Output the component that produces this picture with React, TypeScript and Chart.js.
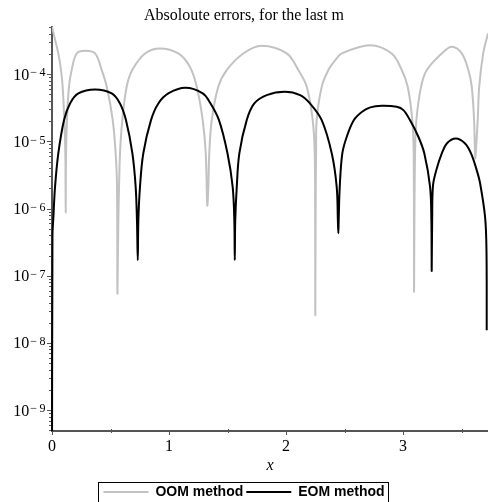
import React, { useEffect, useRef } from 'react';
import { Chart, registerables } from 'chart.js';

Chart.register(...registerables);

// ---------- data ----------
const titleText = 'Absoloute errors, for the last m';
const xAxisTitle = 'x';
const seriesLabels = ['OOM method', 'EOM method'];
const xMin = 0;
const xMax = 3.726;
const yMin = 4.9e-10;
const yMax = 5.2e-4;
const xTickLabels = [0, 1, 2, 3];
const xMinorTicks = [0.5, 1.5, 2.5, 3.5];
const yTickExponents = [-9, -8, -7, -6, -5, -4];

const oomX = [
  0, 0.020, 0.054, 0.077, 0.091, 0.105, 0.114, 0.117,
  0.120, 0.128, 0.145, 0.168, 0.211, 0.282, 0.368, 0.425, 0.468, 0.519, 0.544, 0.556, 0.559,
  0.567, 0.573, 0.581, 0.601, 0.638, 0.686, 0.795, 0.923, 1.079, 1.179, 1.237, 1.288, 1.314, 1.327,
  1.336, 1.344, 1.365, 1.421, 1.493, 1.635, 1.792, 2.006, 2.105, 2.177, 2.228, 2.245, 2.249, 2.250,
  2.254, 2.257, 2.262, 2.305, 2.362, 2.419, 2.476, 2.718, 2.903, 2.989, 3.040, 3.079, 3.091, 3.094,
  3.097, 3.103, 3.114, 3.154, 3.203, 3.331, 3.416, 3.502, 3.558, 3.587, 3.607, 3.615, 3.618,
  3.638, 3.651, 3.685, 3.726,
];
const oomY = [
  5.06e-4, 3.59e-4, 2.03e-4, 1.15e-4, 6.5e-5, 2.07e-5, 6.6e-6, 8.7e-7,
  6.6e-6, 2.07e-5, 6.5e-5, 1.15e-4, 2.03e-4, 2.22e-4, 2.03e-4, 1.15e-4, 6.5e-5, 2.07e-5, 6.6e-6, 2.1e-6, 5.45e-8,
  6.7e-7, 2.1e-6, 6.6e-6, 2.07e-5, 6.5e-5, 1.15e-4, 2.03e-4, 2.41e-4, 2.03e-4, 1.28e-4, 6.5e-5, 2.07e-5, 6.6e-6, 1.12e-6,
  2.1e-6, 6.6e-6, 2.07e-5, 6.5e-5, 1.15e-4, 2.03e-4, 2.64e-4, 2.03e-4, 1.15e-4, 6.5e-5, 2.07e-5, 6.6e-6, 6.7e-7, 2.6e-8,
  2.1e-6, 6.6e-6, 2.07e-5, 6.5e-5, 1.15e-4, 1.6e-4, 2.03e-4, 2.7e-4, 2.03e-4, 1.15e-4, 6.5e-5, 2.07e-5, 6.6e-6, 5.96e-8,
  6.7e-7, 6.6e-6, 2.07e-5, 6.5e-5, 1.15e-4, 2.03e-4, 2.55e-4, 2.03e-4, 1.15e-4, 6.5e-5, 2.07e-5, 6.6e-6, 5.6e-6,
  2.07e-5, 6.5e-5, 2.03e-4, 4.04e-4,
];

const eomX = [
  0, 0.004, 0.011, 0.026, 0.054, 0.103, 0.154, 0.225, 0.368, 0.51, 0.581, 0.632, 0.687, 0.715, 0.726, 0.733,
  0.738, 0.752, 0.780, 0.846, 0.909, 0.994, 1.14, 1.288, 1.355, 1.427, 1.50, 1.544, 1.558, 1.562,
  1.566, 1.579, 1.601, 1.664, 1.729, 1.835, 1.99, 2.12, 2.205, 2.305, 2.391, 2.433, 2.443, 2.447,
  2.45, 2.459, 2.481, 2.519, 2.58, 2.65, 2.72, 2.818, 2.946, 3.003, 3.059, 3.131, 3.182, 3.231, 3.242, 3.245,
  3.249, 3.256, 3.284, 3.331, 3.374, 3.45, 3.53, 3.581, 3.630, 3.658, 3.701, 3.713, 3.715,
];
const eomY = [
  1e-10, 4e-7, 7e-7, 2.1e-6, 6.6e-6, 2.07e-5, 3.66e-5, 5.16e-5, 5.9e-5, 5.16e-5, 3.66e-5, 2.07e-5, 6.6e-6, 2.1e-6, 6.7e-7, 1.7e-7,
  6.7e-7, 2.1e-6, 6.6e-6, 2.07e-5, 3.66e-5, 5.16e-5, 6.26e-5, 5.16e-5, 3.66e-5, 2.07e-5, 6.6e-6, 2.1e-6, 6.7e-7, 1.7e-7,
  6.7e-7, 2.1e-6, 6.6e-6, 2.07e-5, 3.66e-5, 4.87e-5, 5.46e-5, 4.87e-5, 3.66e-5, 2.07e-5, 6.6e-6, 2.1e-6, 6.7e-7, 4.3e-7,
  6.7e-7, 2.1e-6, 6.6e-6, 1.17e-5, 2.07e-5, 2.75e-5, 3.2e-5, 3.38e-5, 3.26e-5, 2.91e-5, 2.07e-5, 1.17e-5, 6.6e-6, 2.1e-6, 6.7e-7, 1.18e-7,
  7e-7, 2.2e-6, 3.7e-6, 6.6e-6, 9.3e-6, 1.1e-5, 9.3e-6, 6.6e-6, 3.7e-6, 2.4e-6, 7.5e-7, 2.4e-7, 1.55e-8,
];

// ---------- styling ----------
const SERIF = "'Liberation Serif', 'Times New Roman', serif";
const SANS = "'Liberation Sans', Arial, sans-serif";
const AXIS_COLOR = '#555555';

const mapleAxesPlugin = {
  id: 'mapleAxes',
  beforeDatasetsDraw(chart: any) {
    const { ctx, chartArea: a, scales } = chart;
    const xs = scales.x;
    const ys = scales.y;
    ctx.save();
    ctx.strokeStyle = AXIS_COLOR;
    ctx.lineWidth = 1;
    ctx.beginPath();
    for (let e = -10; e <= -3; e++) {
      for (let m = 1; m <= 9; m++) {
        const v = m * Math.pow(10, e);
        if (v < ys.min || v > ys.max) continue;
        const y = Math.round(ys.getPixelForValue(v)) + 0.5;
        const len = m === 1 ? 5 : 3;
        ctx.moveTo(a.left - len, y);
        ctx.lineTo(a.left, y);
      }
    }
    for (const t of xTickLabels) {
      const x = Math.round(xs.getPixelForValue(t)) + 0.5;
      ctx.moveTo(x, a.bottom);
      ctx.lineTo(x, a.bottom + 4);
    }
    for (const t of xMinorTicks) {
      const x = Math.round(xs.getPixelForValue(t)) + 0.5;
      ctx.moveTo(x, a.bottom - 2);
      ctx.lineTo(x, a.bottom + 2);
    }
    ctx.stroke();
    ctx.lineWidth = 2;
    ctx.beginPath();
    ctx.moveTo(a.left, a.top);
    ctx.lineTo(a.left, a.bottom);
    ctx.lineTo(a.right, a.bottom);
    ctx.stroke();
    ctx.restore();
  },
  afterDraw(chart: any) {
    const { ctx, scales } = chart;
    const ys = scales.y;
    ctx.save();
    ctx.fillStyle = '#000';
    ctx.textBaseline = 'alphabetic';
    ctx.textAlign = 'right';
    const R = 45.5;
    for (const e of yTickExponents) {
      const y = ys.getPixelForValue(Math.pow(10, e));
      ctx.font = `12px ${SERIF}`;
      const digits = String(Math.abs(e));
      const dw = ctx.measureText(digits).width;
      ctx.fillText(digits, R, y + 2.3);
      const mx = R - dw - 2.5;
      ctx.fillText('\u2212', mx, y + 2.3);
      const mw = ctx.measureText('\u2212').width;
      ctx.font = `16px ${SERIF}`;
      ctx.fillText('10', mx - mw - 1, y + 5.5);
    }
    const lg = chart.legend;
    if (lg && lg.legendHitBoxes && lg.legendHitBoxes.length) {
      let l = Infinity;
      let r = -Infinity;
      for (const hb of lg.legendHitBoxes) {
        l = Math.min(l, hb.left);
        r = Math.max(r, hb.left + hb.width);
      }
      ctx.strokeStyle = '#000';
      ctx.lineWidth = 1;
      ctx.strokeRect(Math.round(l - 5) + 0.5, Math.round(lg.top) + 0.5, Math.round(r - l + 9), 60);
    }
    ctx.restore();
  },
};

export default function App() {
  const ref = useRef<HTMLCanvasElement | null>(null);

  useEffect(() => {
    if (!ref.current) return;
    const oomData = oomX.map((x, i) => ({ x, y: oomY[i] }));
    const eomData = eomX.map((x, i) => ({ x, y: eomY[i] }));
    const chart = new Chart(ref.current, {
      type: 'line',
      data: {
        datasets: [
          {
            label: seriesLabels[0],
            data: oomData,
            borderColor: '#c2c2c2',
            backgroundColor: '#c2c2c2',
            borderWidth: 2,
            pointRadius: 0,
            tension: 0.35,
            order: 1,
          },
          {
            label: seriesLabels[1],
            data: eomData,
            borderColor: '#000000',
            backgroundColor: '#000000',
            borderWidth: 2,
            pointRadius: 0,
            tension: 0.35,
            order: 0,
            clip: { left: 2, top: 0, right: 2, bottom: 0 },
          },
        ],
      } as any,
      options: {
        animation: false,
        responsive: false,
        maintainAspectRatio: false,
        layout: { padding: 0 },
        plugins: {
          title: {
            display: true,
            text: titleText,
            color: '#000',
            font: { family: SERIF, size: 16, weight: 'normal' },
            padding: { top: 6, bottom: 0.8 },
          },
          legend: {
            position: 'bottom',
            maxHeight: 20,
            labels: {
              usePointStyle: true,
              pointStyle: 'line',
              pointStyleWidth: 45,
              color: '#000',
              padding: 3,
              font: { family: SANS, size: 14, weight: 'bold' },
              sort: (a: any, b: any) => a.datasetIndex - b.datasetIndex,
            },
          },
          tooltip: { enabled: false },
        },
        scales: {
          x: {
            type: 'linear',
            min: xMin,
            max: xMax,
            bounds: 'data',
            grid: { display: false, drawTicks: false },
            border: { display: false },
            afterBuildTicks: (s: any) => {
              s.ticks = [...xTickLabels, ...xMinorTicks].sort((a, b) => a - b).map((v) => ({ value: v }));
            },
            afterFit: (s: any) => {
              s.height = 51;
            },
            ticks: {
              padding: 6,
              autoSkip: false,
              maxRotation: 0,
              color: '#000',
              font: { family: SERIF, size: 16 },
              callback: (v: any) => (xTickLabels.includes(Number(v)) ? String(v) : ''),
            },
            title: {
              display: true,
              text: xAxisTitle,
              color: '#000',
              font: { family: SERIF, size: 16, style: 'italic' },
              padding: { top: 0, bottom: 7 },
            },
          },
          y: {
            type: 'logarithmic',
            min: yMin,
            max: yMax,
            bounds: 'data',
            grid: { display: false, drawTicks: false },
            border: { display: false },
            ticks: { display: false },
            afterFit: (s: any) => {
              s.width = 52;
            },
          },
        },
      } as any,
      plugins: [mapleAxesPlugin],
    });
    return () => chart.destroy();
  }, []);

  return (
    <div style={{ position: 'fixed', left: 0, top: 0, width: 488, height: 502, background: '#fff' }}>
      <canvas ref={ref} width={488} height={502} style={{ display: 'block', width: 488, height: 502 }} />
    </div>
  );
}
